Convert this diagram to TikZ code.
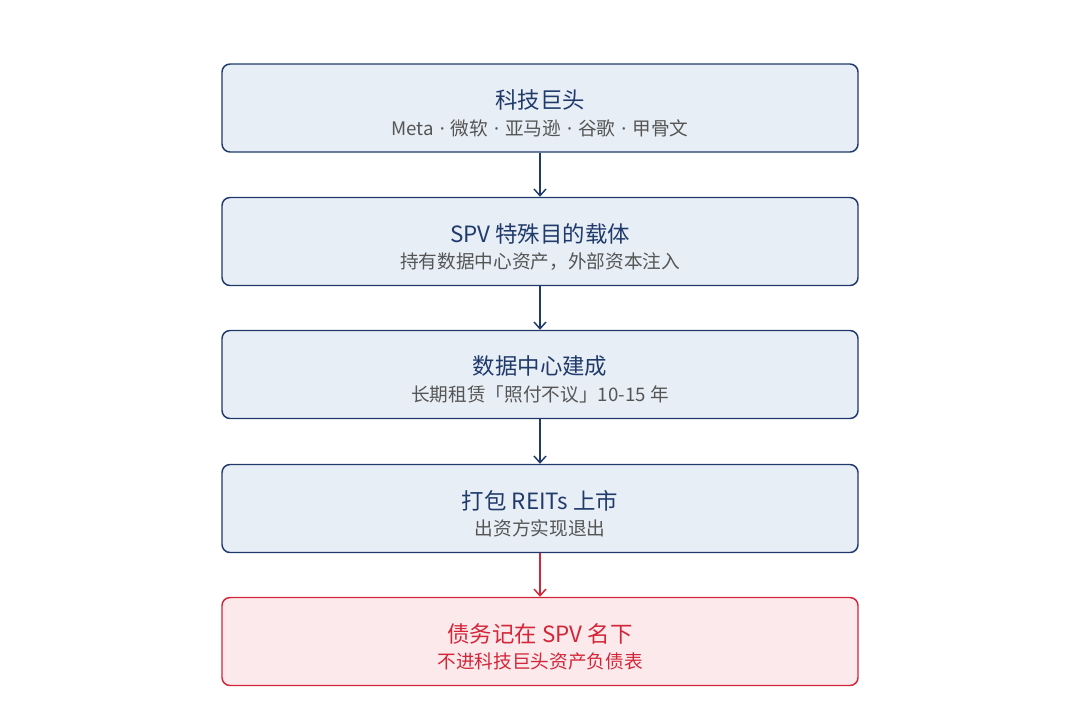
\documentclass[tikz,border=0pt]{standalone}
\usepackage{fontspec}
\setmainfont{Noto Sans CJK SC}
\newfontfamily\latinfont{Noto Sans}
\usetikzlibrary{arrows.meta}
\definecolor{navy}{HTML}{1F3A6B}
\definecolor{navyfill}{HTML}{E8EEF5}
\definecolor{alarm}{HTML}{D32639}
\definecolor{alarmfill}{HTML}{FCE9EB}
\definecolor{subgray}{HTML}{555555}
\newcommand\dotsep{\hspace{0.32em}{\latinfont ·}\hspace{0.32em}}
\tikzset{
  stage/.style={draw=navy,fill=navyfill,line width=1.1pt,rounded corners=6pt,minimum width=477pt,minimum height=66pt},
  alarmstage/.style={stage,draw=alarm,fill=alarmfill},
  title/.style={font=\fontsize{16.8}{19}\selectfont,text=navy},
  sub/.style={font=\fontsize{14}{16}\selectfont,text=subgray},
  flow/.style={-{Straight Barb[length=5pt,width=9pt]},line width=1.1pt,navy}
}
\begin{document}
\begin{tikzpicture}[x=0.75pt,y=0.75pt,yscale=-1,xscale=1]
\useasboundingbox (0,0) rectangle (1080,718);

% boxes
\node [stage] (giants) at (540,108) {};
\node [title] (giantsT) at (540,100) {科技巨头};
\node [sub] (giantsS) at (540,128) {Meta\dotsep 微软\dotsep 亚马逊\dotsep 谷歌\dotsep 甲骨文};

\node [stage] (spv) at (540,241.5) {};
\node [title] (spvT) at (540,233.5) {SPV 特殊目的载体};
\node [sub] (spvS) at (540,261.5) {持有数据中心资产，外部资本注入};

\node [stage] (dc) at (540,374.5) {};
\node [title] (dcT) at (540,366.5) {数据中心建成};
\node [sub] (dcS) at (540,394.5) {长期租赁「照付不议」10-15 年};

\node [stage] (reits) at (540,508.5) {};
\node [title] (reitsT) at (540,500.5) {打包 REITs 上市};
\node [sub] (reitsS) at (540,528.5) {出资方实现退出};

\node [alarmstage] (debt) at (540,641.5) {};
\node [title,text=alarm] (debtT) at (540,633.5) {债务记在 SPV 名下};
\node [sub,text=alarm] (debtS) at (540,661.5) {不进科技巨头资产负债表};

% arrows
\draw [flow] (giants.south) -- (spv.north);
\draw [flow] (spv.south) -- (dc.north);
\draw [flow] (dc.south) -- (reits.north);
\draw [flow,alarm] (reits.south) -- (debt.north);

\end{tikzpicture}
\end{document}
